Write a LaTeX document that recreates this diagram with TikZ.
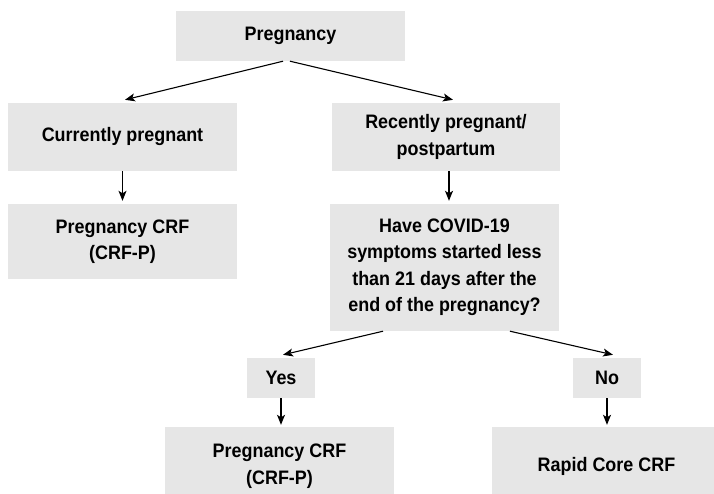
\documentclass[tikz,border=0pt]{standalone}
\usepackage{fontspec}
\setmainfont[FakeStretch=0.92]{Liberation Sans}
\usetikzlibrary{arrows.meta}
\definecolor{boxgray}{RGB}{230,230,230}
\begin{document}
\begin{tikzpicture}[x=1pt,y=1pt,
  box/.style={fill=boxgray, draw=none, inner sep=0pt, align=center,
    font=\fontsize{19.5}{26.5}\selectfont\bfseries},
  conn/.style={draw=black, line width=1.1pt, -{Stealth[length=10pt,width=8pt,inset=2.5pt]}}]
\useasboundingbox (0,0) rectangle (714,-494);
\node[box, minimum width=229pt, minimum height=50pt] (preg) at (290.5,-36) {Pregnancy};
\node[box, minimum width=229pt, minimum height=68pt] (cur) at (122.5,-137) {Currently pregnant};
\node[box, minimum width=228pt, minimum height=68pt] (rec) at (446,-137) {Recently pregnant/\\postpartum};
\node[box, minimum width=229pt, minimum height=75pt] (crfp1) at (122.5,-241.5) {Pregnancy CRF\\(CRF-P)};
\node[box, minimum width=229pt, minimum height=127pt] (have) at (444.5,-267.5) {Have COVID-19\\symptoms started less\\than 21 days after the\\end of the pregnancy?};
\node[box, minimum width=68pt, minimum height=40pt] (yes) at (281,-378) {Yes};
\node[box, minimum width=68pt, minimum height=40pt] (no) at (607,-378) {No};
\node[box, minimum width=229pt, minimum height=78pt] (crfp2) at (279.5,-466) {Pregnancy CRF\\(CRF-P)};
\node[box, minimum width=229pt, minimum height=78pt] (rapid) at (606.5,-466) {Rapid Core CRF};
\draw[conn] ([xshift=-7.5pt]preg.south) -- ([xshift=2.5pt,yshift=3pt]cur.north);
\draw[conn] ([xshift=-0.5pt]preg.south) -- ([xshift=7pt,yshift=3pt]rec.north);
\draw[conn] (cur.south) -- ([yshift=3pt]crfp1.north);
\draw[conn] ([xshift=3pt]rec.south) -- ([xshift=3pt,yshift=3pt]have.north -| rec.south);
\draw[conn] ([xshift=-61.5pt]have.south) -- ([xshift=2pt,yshift=3pt]yes.north);
\draw[conn] ([xshift=65.5pt]have.south) -- ([xshift=6pt,yshift=3pt]no.north);
\draw[conn] (yes.south) -- ([yshift=2pt]crfp2.north -| yes.south);
\draw[conn] (no.south) -- ([yshift=2pt]rapid.north -| no.south);
\end{tikzpicture}
\end{document}
